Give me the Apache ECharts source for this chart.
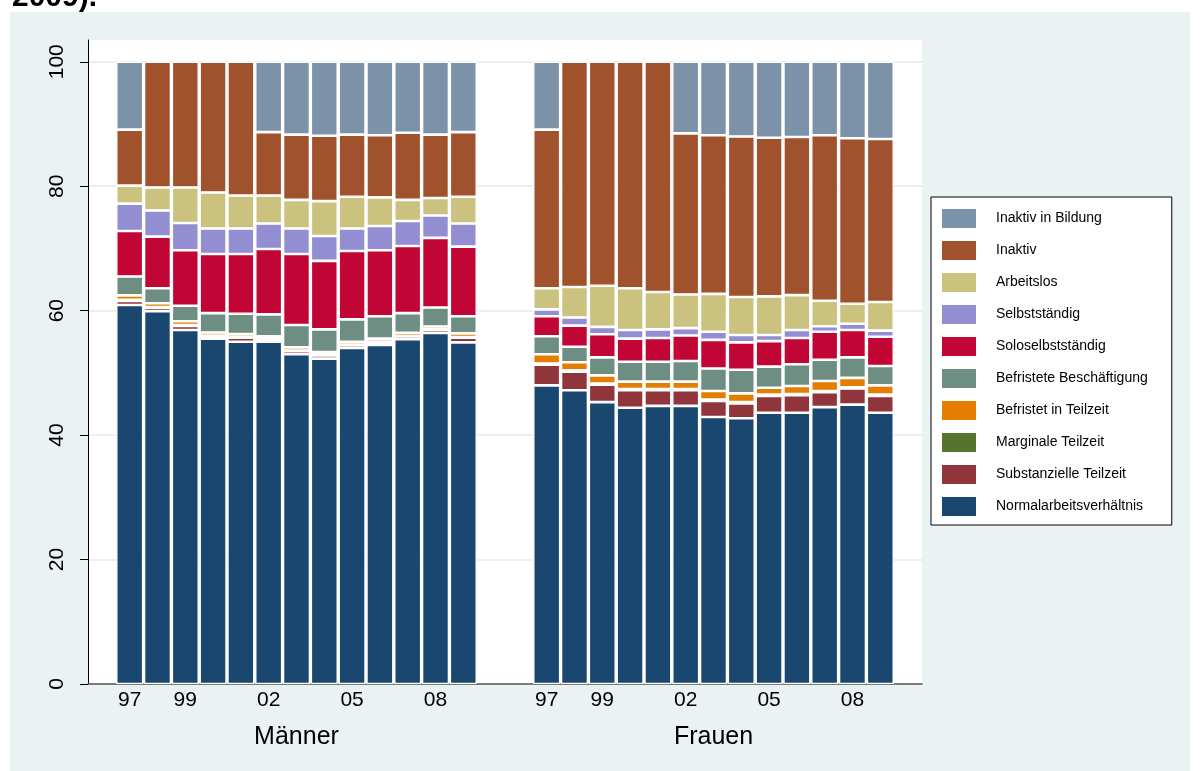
<!DOCTYPE html>
<html>
<head>
<meta charset="utf-8">
<script src="https://cdn.jsdelivr.net/npm/echarts@6/dist/echarts.min.js"></script>
<style>
html,body{margin:0;padding:0;background:#fff;}
#chart{width:1200px;height:771px;}
</style>
</head>
<body>
<div id="chart"></div>
<script>
// ---------- DATA ----------
const years = ['1997','1998','1999','2000','2001','2002','2003','2004','2005','2006','2007','2008','2009'];
const yearTicks = ['97','','99','','','02','','','05','','','08',''];
const groups = ['Männer','Frauen'];
const groupLabelYear = '2003';
const yTicks = [0,20,40,60,80,100];

// series, bottom of stack to top
const seriesNames = ['Normalarbeitsverhältnis','Substanzielle Teilzeit','Marginale Teilzeit','Befristet in Teilzeit',
  'Befristete Beschäftigung','Soloselbstständig','Selbstständig','Arbeitslos','Inaktiv','Inaktiv in Bildung'];
const seriesColors = ['#1a476f','#90353b','#55752f','#e37e00','#6e8e84','#c10534','#938dd2','#cac27e','#a0522d','#7b92a8'];

// Männer (percent)
const m_normal   = [60.9,59.9,56.9,55.5,55.0,55.0,53.0,52.3,54.0,54.5,55.4,56.4,54.9];
const m_subst    = [0.65,0.55,0.65,0.4,0.65,0.4,0.5,0.5,0.45,0.45,0.45,0.5,0.75];
const m_marginal = [0.2,0.15,0.15,0.1,0.15,0.1,0.1,0.15,0.1,0.1,0.1,0.1,0.1];
const m_befrTz   = [0.7,0.6,0.6,0.5,0.45,0.4,0.5,0.4,0.45,0.45,0.5,0.45,0.6];
const m_befr     = [3.05,2.4,2.5,3.1,3.25,3.5,3.6,3.65,3.6,3.6,3.15,3.05,2.75];
const m_solo     = [7.3,8.3,8.9,9.5,9.6,10.5,11.4,11.0,11.0,10.6,10.8,11.2,11.2];
const m_selbst   = [4.4,4.2,4.4,4.1,4.1,4.1,4.1,4.0,3.6,3.9,4.0,3.6,3.7];
const m_arbeitslos = [2.9,3.7,5.7,5.8,5.3,4.5,4.6,5.6,5.1,4.6,3.4,2.8,4.3];
const m_inaktiv  = [9.0,20.2,20.2,21.0,21.5,10.2,10.5,10.5,10.0,10.0,10.8,10.2,10.4];
const m_bildung  = [10.9,0,0,0,0,11.3,11.7,11.9,11.7,11.8,11.4,11.7,11.3];

// Frauen (percent)
const f_normal   = [48.0,47.2,45.3,44.4,44.7,44.7,42.9,42.7,43.6,43.6,44.5,44.9,43.6];
const f_subst    = [3.3,3.0,2.8,2.8,2.5,2.5,2.6,2.4,2.7,2.8,2.4,2.6,2.7];
const f_marginal = [0.2,0.2,0.2,0.2,0.2,0.2,0.2,0.2,0.2,0.2,0.2,0.2,0.2];
const f_befrTz   = [1.5,1.3,1.3,1.2,1.2,1.2,1.4,1.4,1.1,1.3,1.6,1.5,1.5];
const f_befr     = [2.9,2.5,2.9,3.2,3.2,3.3,3.6,3.8,3.4,3.5,3.4,3.3,3.1];
const f_solo     = [3.2,3.4,3.7,3.7,3.8,4.1,4.6,4.4,4.1,4.2,4.5,4.4,4.7];
const f_selbst   = [1.1,1.3,1.2,1.4,1.4,1.2,1.3,1.2,1.0,1.3,0.9,1.0,1.0];
const f_arbeitslos = [3.4,4.9,6.6,6.7,6.0,5.4,6.1,6.1,6.2,5.6,4.1,3.2,4.6];
const f_inaktiv  = [25.5,36.2,36.0,36.4,37.0,25.9,25.5,25.8,25.5,25.4,26.6,26.6,26.2];
const f_bildung  = [10.9,0,0,0,0,11.5,11.8,12.0,12.2,12.1,11.8,12.3,12.4];

const menSeries   = [m_normal,m_subst,m_marginal,m_befrTz,m_befr,m_solo,m_selbst,m_arbeitslos,m_inaktiv,m_bildung];
const womenSeries = [f_normal,f_subst,f_marginal,f_befrTz,f_befr,f_solo,f_selbst,f_arbeitslos,f_inaktiv,f_bildung];

// ---------- BUILD ----------
const slots = ['padL'].concat(years.map(y => 'M' + y), ['gap1','gap2'], years.map(y => 'F' + y), ['padR']);
const slotTicks = [''].concat(yearTicks, ['',''], yearTicks, ['']);
const slotGroup = slots.map(s => s === 'M' + groupLabelYear ? groups[0] : (s === 'F' + groupLabelYear ? groups[1] : ''));

function toSlots(men, women) {
  const f = v => (v === 0 ? '-' : v);
  return ['-'].concat(men.map(f), ['-','-'], women.map(f), ['-']);
}

const FONT = '"Liberation Sans", Arial, Helvetica, sans-serif';

const series = seriesNames.map((name, i) => ({
  name: name,
  type: 'bar',
  stack: 'all',
  barWidth: 27,
  data: toSlots(menSeries[i], womenSeries[i]),
  itemStyle: { color: seriesColors[i], borderColor: '#ffffff', borderWidth: 1.3 },
  emphasis: { disabled: true },
  animation: false
}));

const chart = echarts.init(document.getElementById('chart'), null, { renderer: 'canvas' });
chart.setOption({
  animation: false,
  backgroundColor: '#eaf2f3',
  textStyle: { fontFamily: FONT },
  graphic: [
    { type: 'rect', left: 0, top: 0, shape: { width: 1200, height: 12 }, style: { fill: '#ffffff' }, silent: true },
    { type: 'rect', left: 0, top: 0, shape: { width: 10, height: 771 }, style: { fill: '#ffffff' }, silent: true },
    { type: 'rect', left: 1190, top: 0, shape: { width: 10, height: 771 }, style: { fill: '#ffffff' }, silent: true },
    { type: 'text', x: 12, y: -17, style: { text: '2009).', font: 'bold 30px "Liberation Sans", Arial, sans-serif', fill: '#000' }, silent: true }
  ],
  grid: {
    left: 88, right: 278, top: 40, bottom: 87,
    show: true, backgroundColor: '#ffffff', borderWidth: 0
  },
  legend: {
    orient: 'vertical',
    left: 931, top: 197,
    data: seriesNames.slice().reverse(),
    icon: 'rect',
    itemWidth: 34, itemHeight: 19, itemGap: 13,
    itemStyle: { borderWidth: 0 },
    backgroundColor: '#ffffff',
    borderColor: '#000000', borderWidth: 1, borderRadius: 0,
    padding: [12, 24, 9, 11],
    selectedMode: false,
    textStyle: { fontSize: 14, color: '#000', fontFamily: FONT, padding: [0, 0, 0, 15] }
  },
  xAxis: [
    {
      type: 'category',
      data: slots,
      axisLine: { show: true, lineStyle: { color: '#555555', width: 1.5 } },
      axisTick: { show: false },
      axisLabel: { interval: 0, formatter: (v, i) => slotTicks[i], fontSize: 21, color: '#000', margin: 6, fontFamily: FONT },
      splitLine: { show: false }
    },
    {
      type: 'category',
      data: slots,
      position: 'bottom',
      offset: 33,
      axisLine: { show: false },
      axisTick: { show: false },
      axisLabel: { interval: 0, formatter: (v, i) => slotGroup[i], fontSize: 25, color: '#000', margin: 8, fontFamily: FONT },
      splitLine: { show: false }
    }
  ],
  yAxis: {
    type: 'value',
    min: 0, max: 103.5, interval: 20,
    axisLine: { show: true, lineStyle: { color: '#000', width: 1 } },
    axisTick: { show: true, length: 8, lineStyle: { color: '#000', width: 1 }, customValues: yTicks },
    axisLabel: { rotate: 90, fontSize: 21, color: '#000', margin: 20, fontFamily: FONT, customValues: yTicks },
    splitLine: { show: true, lineStyle: { color: '#e4eced', width: 1.5 } }
  },
  series: series
});
</script>
</body>
</html>
